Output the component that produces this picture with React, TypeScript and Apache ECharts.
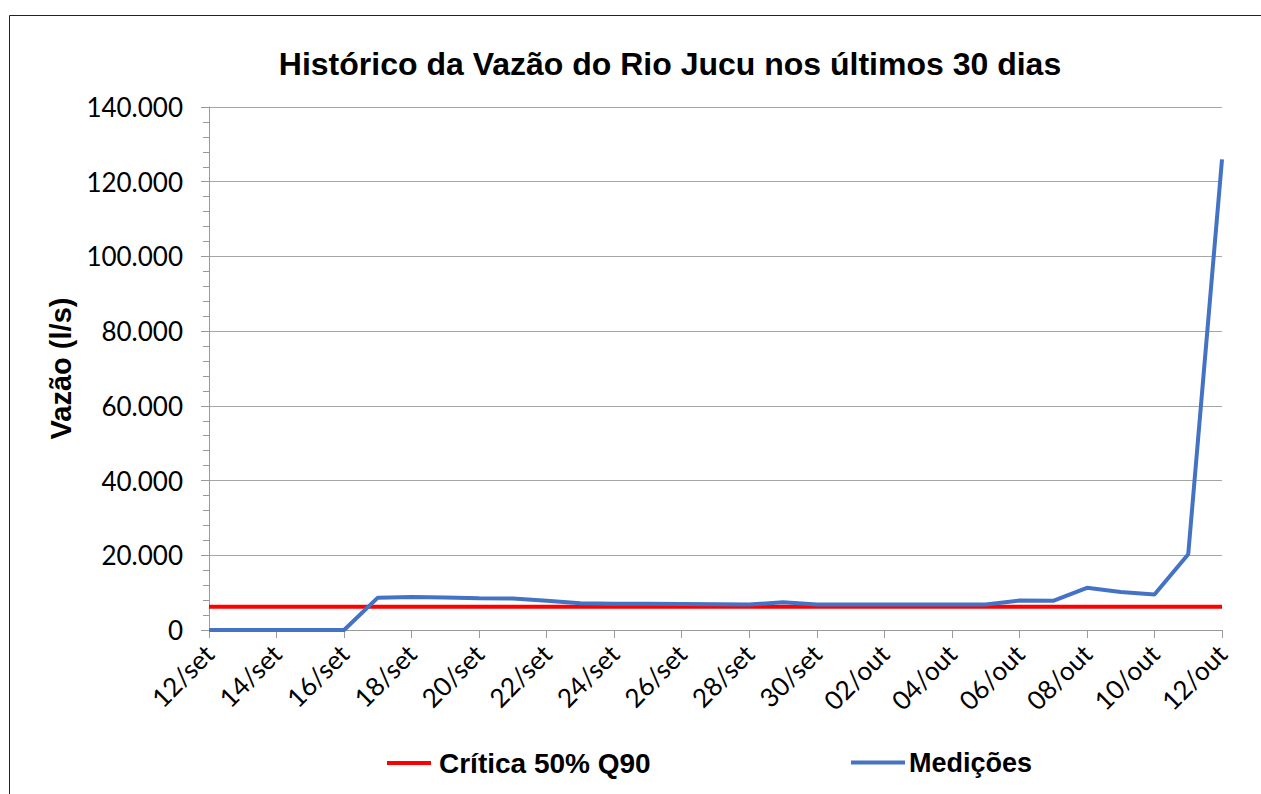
import React, { useEffect, useRef } from "react";
import * as echarts from "echarts";

const categories = [
  "12/set", "13/set", "14/set", "15/set", "16/set", "17/set", "18/set", "19/set",
  "20/set", "21/set", "22/set", "23/set", "24/set", "25/set", "26/set", "27/set",
  "28/set", "29/set", "30/set", "01/out", "02/out", "03/out", "04/out", "05/out",
  "06/out", "07/out", "08/out", "09/out", "10/out", "11/out", "12/out",
];

const medicoes = [
  0, 0, 0, 0, 0, 8660, 8840, 8700, 8500, 8400, 7800, 7150, 7000, 7000, 6950, 6900,
  6800, 7400, 6850, 6800, 6800, 6800, 6800, 6800, 7900, 7800, 11300, 10200, 9500,
  20300, 126000,
];

const criticaValue = 6200;
const critica = categories.map(() => criticaValue);

const titleText = "Histórico da Vazão do Rio Jucu nos últimos 30 dias";
const yAxisName = "Vazão (l/s)";
const seriesNames = ["Crítica 50% Q90", "Medições"];

function fmt(v: number): string {
  if (v === 0) return "0";
  const s = String(Math.round(v));
  return s.replace(/\B(?=(\d{3})+(?!\d))/g, ".");
}

export default function App() {
  const ref = useRef<HTMLDivElement>(null);
  useEffect(() => {
    if (!ref.current) return;
    const chart = echarts.init(ref.current, null, { renderer: "svg" });
    const legendText = {
      fontFamily: "Liberation Sans, Arial, sans-serif",
      fontWeight: "bold",
      fontSize: 28,
      color: "#000",
    };
    chart.setOption({
      animation: false,
      backgroundColor: "#ffffff",
      title: {
        text: titleText,
        left: 665,
        textAlign: "center",
        top: 43,
        textStyle: {
          fontFamily: "Liberation Sans, Arial, sans-serif",
          fontWeight: "bold",
          fontSize: 32,
          color: "#000",
        },
      },
      graphic: [
        {
          type: "rect",
          shape: { x: 9.5, y: 15.5, width: 1270, height: 800 },
          style: { fill: "none", stroke: "#222", lineWidth: 1 },
          silent: true,
          z: -1,
        },
      ],
      legend: [
        {
          data: [{ name: seriesNames[0], icon: "rect" }],
          left: 387,
          top: 749,
          padding: 0,
          itemWidth: 44,
          itemHeight: 4,
          textStyle: { ...legendText, padding: [0, 0, 0, 3] },
        },
        {
          data: [{ name: seriesNames[1], icon: "rect" }],
          left: 851,
          top: 749,
          padding: 0,
          itemWidth: 54,
          itemHeight: 4,
          textStyle: { ...legendText, fontSize: 27, padding: [0, 0, 0, -1] },
        },
      ],
      grid: { left: 209, right: 39, top: 107, bottom: 164, containLabel: false },
      xAxis: {
        type: "category",
        data: categories,
        boundaryGap: false,
        axisLine: { show: true, lineStyle: { color: "#9a9a9a", width: 1 } },
        axisTick: { show: true, interval: 1, length: 8, lineStyle: { color: "#9a9a9a" } },
        axisLabel: {
          interval: 1,
          rotate: 45,
          margin: 19,
          fontFamily: "Lato, Open Sans, sans-serif",
          fontSize: 26,
          color: "#000",
        },
        splitLine: { show: false },
      },
      yAxis: {
        type: "value",
        min: 0,
        max: 140000,
        interval: 20000,
        name: yAxisName,
        nameLocation: "middle",
        nameGap: 132,
        nameRotate: 90,
        nameTextStyle: {
          fontFamily: "Liberation Sans, Arial, sans-serif",
          fontWeight: "bold",
          fontSize: 29,
          color: "#000",
        },
        axisLine: { show: true, lineStyle: { color: "#9a9a9a", width: 1 } },
        axisTick: { show: true, length: 8, lineStyle: { color: "#9a9a9a" } },
        minorTick: { show: true, splitNumber: 5, length: 6, lineStyle: { color: "#9a9a9a" } },
        axisLabel: {
          formatter: (v: number) => fmt(v),
          margin: 26,
          fontFamily: "Lato, Open Sans, sans-serif",
          fontSize: 26,
          color: "#000",
        },
        splitLine: { show: true, lineStyle: { color: "#a6a6a6", width: 1 } },
      },
      series: [
        {
          name: seriesNames[0],
          type: "line",
          data: critica,
          symbol: "none",
          lineStyle: { color: "#ff0000", width: 4 },
          itemStyle: { color: "#ff0000" },
        },
        {
          name: seriesNames[1],
          type: "line",
          data: medicoes,
          symbol: "none",
          lineStyle: { color: "#4472c4", width: 4 },
          itemStyle: { color: "#4472c4" },
        },
      ],
    });
    return () => chart.dispose();
  }, []);
  return (
    <div
      ref={ref}
      style={{ position: "absolute", left: 0, top: 0, width: 1261, height: 794 }}
    />
  );
}
